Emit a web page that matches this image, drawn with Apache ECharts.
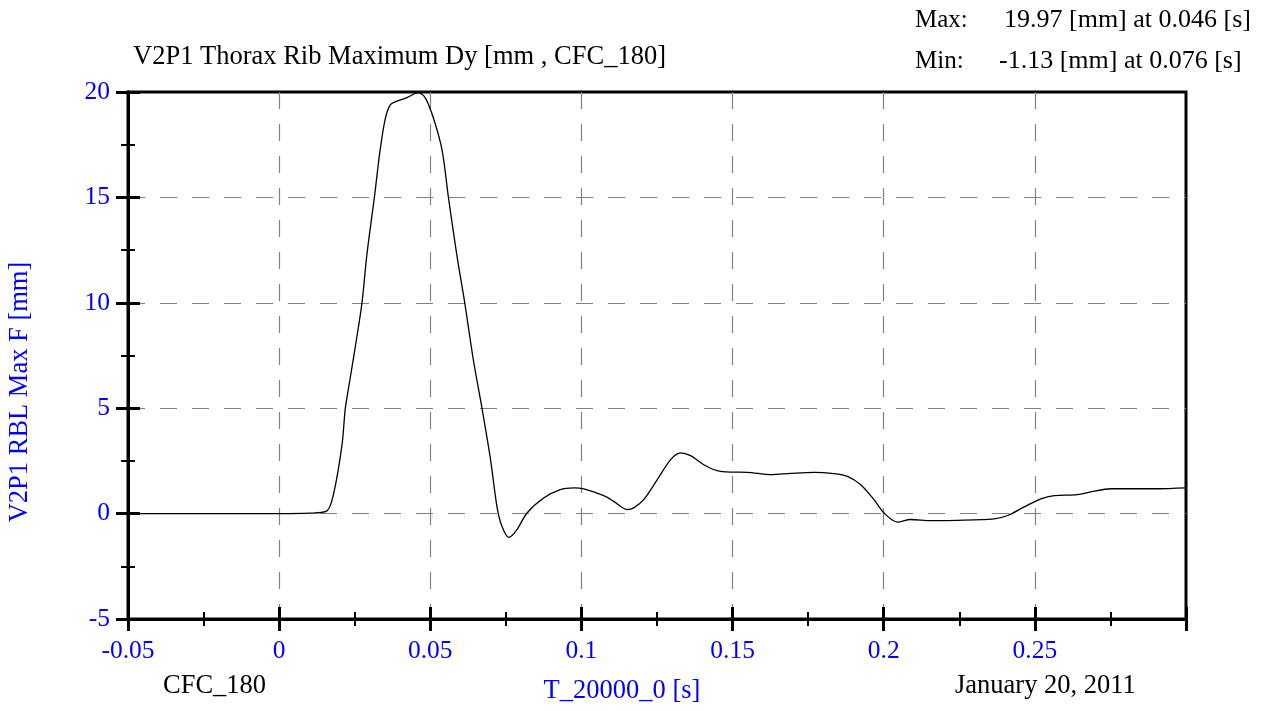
<!DOCTYPE html>
<html>
<head>
<meta charset="utf-8">
<title>V2P1 Thorax Rib Maximum Dy</title>
<script src="https://cdn.jsdelivr.net/npm/echarts@6/dist/echarts.min.js"></script>
<style>
  html, body { margin: 0; padding: 0; background: #ffffff; }
  #chart { width: 1264px; height: 711px; }
</style>
</head>
<body>
<div id="chart"></div>
<script>
// Time samples [s] and rib deflection Dy [mm], CFC_180 filtered
const timeS = [
  -0.05, 0.0, 0.010, 0.0158, 0.018, 0.0208, 0.0219, 0.0235, 0.0252, 0.0274,
  0.029, 0.0315, 0.0334, 0.0351, 0.0368, 0.039, 0.0423, 0.046, 0.0483, 0.0511,
  0.0539, 0.056, 0.0588, 0.0614, 0.0643, 0.0671, 0.0699, 0.0721, 0.0737, 0.076,
  0.0785, 0.082, 0.0875, 0.093, 0.0975, 0.1008, 0.1074, 0.1107, 0.1151, 0.1173,
  0.1206, 0.1251, 0.1295, 0.1328, 0.1361, 0.1405, 0.1449, 0.1493, 0.1549, 0.1626,
  0.1692, 0.1769, 0.1835, 0.188, 0.1924, 0.1968, 0.2001, 0.2045, 0.2089, 0.2156,
  0.2243, 0.2365, 0.241, 0.2465, 0.252, 0.2564, 0.2641, 0.2685, 0.2752, 0.2829,
  0.2906, 0.3
];
const dyMm = [
  0, 0, 0.02, 0.13, 0.93, 3.26, 5.0, 6.42, 7.92, 10.0,
  12.25, 15.0, 17.24, 18.73, 19.4, 19.57, 19.73, 19.97, 19.73, 18.73,
  17.24, 15.0, 12.25, 10.0, 7.25, 5.0, 2.6, 0.3, -0.6, -1.13,
  -0.8, 0.03, 0.74, 1.14, 1.22, 1.17, 0.85, 0.58, 0.19, 0.27,
  0.66, 1.61, 2.56, 2.88, 2.75, 2.32, 2.04, 1.97, 1.96, 1.85,
  1.91, 1.96, 1.9, 1.77, 1.37, 0.66, 0.03, -0.4, -0.28, -0.33,
  -0.32, -0.25, -0.09, 0.32, 0.7, 0.85, 0.9, 1.03, 1.18, 1.18,
  1.18, 1.22
];

// Axis ranges and steps
const xRange = { min: -0.05, max: 0.3, step: 0.05 };
const yRange = { min: -5, max: 20, step: 5 };

// Header / footer texts
const titleText = 'V2P1 Thorax Rib Maximum Dy [mm , CFC_180]';
const maxLabel = ['Max:', '19.97 [mm] at 0.046 [s]'];
const minLabel = ['Min:', '-1.13 [mm] at 0.076 [s]'];
const yName = 'V2P1 RBL Max F [mm]';
const xName = 'T_20000_0 [s]';
const filterName = 'CFC_180';
const dateText = 'January 20, 2011';

const FONT = '"Liberation Serif", "Times New Roman", serif';
const BLUE = '#0000ff';
const FS = 26.5;      // annotation texts
const FS_TICK = 25.5; // axis tick labels

const chart = echarts.init(document.getElementById('chart'), null, { renderer: 'canvas' });

const gridLine = { show: true, showMinLine: false, showMaxLine: false,
  lineStyle: { color: '#808080', width: 1.2, type: [17, 15] } };

// Two coincident axes per direction: one with outward ticks, one with inward ticks,
// so the tick marks cross the axis line.
function xAxisDef(inside, main) {
  return {
    type: 'value', position: 'bottom', min: xRange.min, max: xRange.max, interval: xRange.step,
    axisLine: { show: true, onZero: false, lineStyle: { color: '#000', width: 3 } },
    axisTick: { show: true, inside: inside, length: 12, lineStyle: { color: '#000', width: 3 } },
    minorTick: { show: true, splitNumber: 2, length: 7, lineStyle: { color: '#000', width: 2 } },
    axisLabel: main ? { show: true, color: BLUE, fontFamily: FONT, fontSize: FS_TICK, margin: 19,
      showMaxLabel: false } : { show: false },
    splitLine: main ? gridLine : { show: false }
  };
}
function yAxisDef(inside, main) {
  return {
    type: 'value', position: 'left', min: yRange.min, max: yRange.max, interval: yRange.step,
    axisLine: { show: true, onZero: false, lineStyle: { color: '#000', width: 3 } },
    axisTick: { show: true, inside: inside, length: 12, lineStyle: { color: '#000', width: 3 } },
    minorTick: { show: true, splitNumber: 2, length: 7, lineStyle: { color: '#000', width: 2 } },
    axisLabel: main ? { show: true, color: BLUE, fontFamily: FONT, fontSize: FS_TICK, margin: 18 } : { show: false },
    splitLine: main ? gridLine : { show: false }
  };
}

function txt(x, y, text, opts) {
  return {
    type: 'text', x: x, y: y, silent: true,
    style: Object.assign({ text: text, fontFamily: FONT, fontSize: FS, fill: '#000',
      align: 'left', verticalAlign: 'middle' }, opts || {})
  };
}

chart.setOption({
  animation: false,
  backgroundColor: '#ffffff',
  grid: { left: 128, right: 78, top: 92, bottom: 92, show: true,
    borderColor: '#000', borderWidth: 3, backgroundColor: 'transparent' },
  xAxis: [xAxisDef(false, true), xAxisDef(true, false)],
  yAxis: [yAxisDef(false, true), yAxisDef(true, false)],
  series: [{
    type: 'line', xAxisIndex: 0, yAxisIndex: 0,
    data: timeS.map((t, i) => [t, dyMm[i]]),
    showSymbol: false, smooth: 0.3, clip: true,
    lineStyle: { color: '#000', width: 1.3 }
  }],
  graphic: [
    txt(133, 57, titleText),
    txt(915, 20, maxLabel[0], { fontSize: 25 }),
    txt(1004, 20, maxLabel[1], { fontSize: 26 }),
    txt(915, 61, minLabel[0], { fontSize: 25 }),
    txt(999, 61, minLabel[1], { fontSize: 26 }),
    txt(163, 686, filterName),
    txt(622, 691, xName, { align: 'center', fill: BLUE }),
    txt(955, 686, dateText),
    { type: 'text', x: 20, y: 392, rotation: Math.PI / 2, silent: true,
      style: { text: yName, fontFamily: FONT, fontSize: FS, fill: BLUE,
        align: 'center', verticalAlign: 'middle' } }
  ]
});
</script>
</body>
</html>
